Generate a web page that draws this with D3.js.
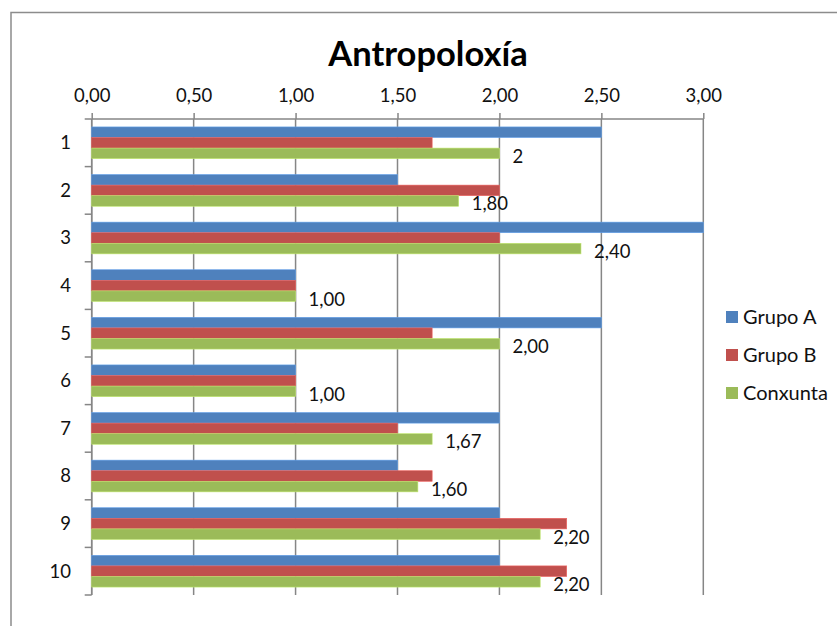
<!DOCTYPE html>
<html><head><meta charset="utf-8">
<script src="https://cdn.jsdelivr.net/npm/d3@7"></script>
<style>
html,body{margin:0;padding:0;background:#fff;}
svg{display:block;font-family:Lato,"Open Sans",sans-serif;}
</style></head>
<body>
<svg id="chart" width="837" height="626"></svg>
<script>
const categories = ["1","2","3","4","5","6","7","8","9","10"];
const seriesNames = ["Grupo A","Grupo B","Conxunta"];
const grupoA = [2.5,1.5,3.0,1.0,2.5,1.0,2.0,1.5,2.0,2.0];
const grupoB = [1.67,2.0,2.0,1.0,1.67,1.0,1.5,1.67,2.33,2.33];
const conxunta = [2.0,1.8,2.4,1.0,2.0,1.0,1.67,1.6,2.2,2.2];
const conxuntaLabels = ["2","1,80","2,40","1,00","2,00","1,00","1,67","1,60","2,20","2,20"];
const xTicks = [0,0.5,1,1.5,2,2.5,3];
const colors = ["#4F81BD","#C0504D","#9BBB59"];
const seriesValues = [grupoA, grupoB, conxunta];

const svg = d3.select("#chart");
const pLeft = 91.7, pRight = 703.3, pTop = 119, pBottom = 595;

// chart frame (partially visible)
svg.append("path").attr("d","M11,626 V12.5 H837").attr("fill","none").attr("stroke","#8c8c8c").attr("stroke-width",1.5);

const x = d3.scaleLinear().domain([0,3]).range([pLeft,pRight]);
const y = d3.scaleBand().domain(categories).range([pTop,pBottom]).paddingInner(0.3333).paddingOuter(0.1667);
const ySub = d3.scaleBand().domain(seriesNames).range([0,y.bandwidth()]);
const fmt = v => d3.format(".2f")(v).replace(".",",");

// gridlines
svg.append("g").selectAll("line").data(xTicks).join("line")
  .attr("x1",d=>x(d)).attr("x2",d=>x(d)).attr("y1",pTop).attr("y2",pBottom)
  .attr("stroke","#868686").attr("stroke-width",1.5);

// top axis
const xAxis = d3.axisTop(x).tickValues(xTicks).tickFormat(fmt).tickSize(6).tickPadding(11);
const gx = svg.append("g").attr("transform",`translate(0,${pTop})`).call(xAxis);
gx.select(".domain").attr("stroke","#868686").attr("stroke-width",1.5).attr("d",`M${pLeft},0H${pRight}`);
gx.selectAll(".tick line").attr("stroke","#868686").attr("stroke-width",1.5);
gx.selectAll(".tick text").attr("font-size",18.5).attr("fill","#111").attr("font-family","Lato");

// left axis
const gy = svg.append("g");
gy.append("line").attr("x1",pLeft).attr("x2",pLeft).attr("y1",pTop).attr("y2",pBottom).attr("stroke","#868686").attr("stroke-width",1.5);
const bScale = d3.scaleLinear().domain([0,categories.length]).range([pTop,pBottom]);
gy.selectAll("line.tk").data(d3.range(categories.length+1)).join("line").attr("class","tk")
  .attr("x1",pLeft-7).attr("x2",pLeft).attr("y1",d=>bScale(d)).attr("y2",d=>bScale(d))
  .attr("stroke","#868686").attr("stroke-width",1.5);
gy.selectAll("text").data(categories).join("text")
  .attr("x",71).attr("y",d=>y(d)+y.bandwidth()/2).attr("dy","0.35em")
  .attr("text-anchor","end").attr("font-size",18.5).attr("fill","#111").text(d=>d);

// bars
seriesNames.forEach((s,si)=>{
  svg.append("g").selectAll("rect").data(categories).join("rect")
    .attr("x",pLeft).attr("y",(c)=>y(c)+ySub(s))
    .attr("width",(c,i)=>x(seriesValues[si][i])-pLeft)
    .attr("height",ySub.bandwidth())
    .attr("fill",colors[si])
    .attr("stroke",d3.color(colors[si]).brighter(0.6)).attr("stroke-width",0.6);
});

// data labels
svg.append("g").selectAll("text").data(categories).join("text")
  .attr("x",(c,i)=>x(conxunta[i])+13)
  .attr("y",c=>y(c)+ySub("Conxunta")+ySub.bandwidth()/2+3).attr("dy","0.35em")
  .attr("font-size",18.5).attr("fill","#111").text((c,i)=>conxuntaLabels[i]);

// title
svg.append("text").attr("x",428).attr("y",66).attr("text-anchor","middle")
  .attr("font-size",34.5).attr("font-weight","bold").attr("fill","#000").text("Antropoloxía");

// legend
const lg = svg.append("g");
seriesNames.forEach((s,i)=>{
  const cy = 317 + i*38;
  lg.append("rect").attr("x",726).attr("y",cy-6).attr("width",12).attr("height",12).attr("fill",colors[i]);
  lg.append("text").attr("x",743).attr("y",cy).attr("dy","0.35em").attr("font-size",20).attr("fill","#111").text(s);
});
</script>
</body></html>
